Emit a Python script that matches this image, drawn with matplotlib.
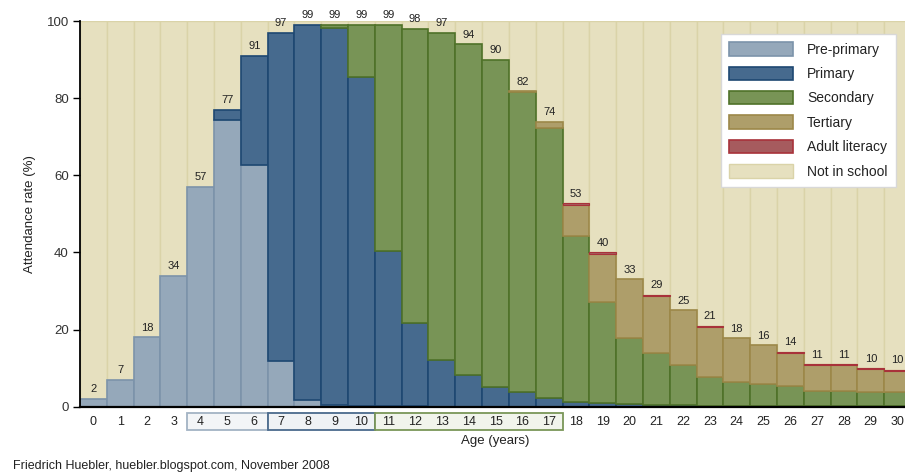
import matplotlib
matplotlib.use("Agg")
import matplotlib.pyplot as plt
from matplotlib.patches import Patch, Rectangle
import matplotlib.transforms as mtransforms

plt.rcParams['font.family'] = ['Liberation Sans', 'DejaVu Sans']

ages = list(range(31))
age_labels = [str(a) for a in ages]

preprimary = [2.0, 7.0, 18.0, 34.0, 57.0, 74.3, 62.7, 11.8, 1.7, 0.5, 0.3, 0.2, 0.1, 0, 0, 0,
              0, 0, 0, 0, 0, 0, 0, 0, 0, 0, 0, 0, 0, 0, 0]
primary = [0, 0, 0, 0, 0, 2.7, 28.3, 85.2, 97.3, 97.7, 85.3, 40.2, 21.5, 12.1, 8.1, 5.2,
           3.9, 2.2, 1.3, 1.0, 0.6, 0.4, 0.5, 0.3, 0.2, 0.2, 0.1, 0.1, 0.1, 0.1, 0.1]
secondary = [0, 0, 0, 0, 0, 0, 0, 0, 0, 0.8, 13.4, 58.6, 76.4, 84.9, 85.9, 84.8,
             77.6, 70.0, 43.0, 26.2, 17.1, 13.4, 10.3, 7.3, 6.1, 5.7, 5.3, 4.1, 4.1, 3.6, 3.6]
tertiary = [0, 0, 0, 0, 0, 0, 0, 0, 0, 0, 0, 0, 0, 0, 0, 0,
            0.3, 1.6, 8.1, 12.5, 15.3, 14.9, 14.2, 13.0, 11.4, 10.0, 8.6, 6.5, 6.5, 6.0, 5.6]
adult = [0, 0, 0, 0, 0, 0, 0, 0, 0, 0, 0, 0, 0, 0, 0, 0,
         0, 0, 0.3, 0.3, 0.0, 0.3, 0.0, 0.3, 0.0, 0.0, 0.3, 0.3, 0.3, 0.3, 0.3]
total_labels = [2, 7, 18, 34, 57, 77, 91, 97, 99, 99, 99, 99, 98, 97, 94, 90,
                82, 74, 53, 40, 33, 29, 25, 21, 18, 16, 14, 11, 11, 10, 10]

series = [
    ("Pre-primary", preprimary, "#95A8BA", "#7C93AA", 1.2),
    ("Primary", primary, "#466A8E", "#1E4872", 1.2),
    ("Secondary", secondary, "#789456", "#4F7229", 1.2),
    ("Tertiary", tertiary, "#AE9E6A", "#9C8849", 1.2),
    ("Adult literacy", adult, "#A65B5E", "#A8323A", 0.8),
]
notin_face, notin_edge = "#E6E0BF", "#DAD3A8"

fig = plt.figure(figsize=(9.05, 4.75), dpi=100)
ax = fig.add_axes([80 / 905, 68.3 / 475, 831 / 905, 385.7 / 475])
ax.set_facecolor(notin_face)

tops = [sum(s[1][i] for s in series) for i in range(len(ages))]
ax.bar(ages, [100 - t for t in tops], bottom=tops, width=1.0, color=notin_face,
       edgecolor=notin_edge, linewidth=1.0, zorder=1)

bottoms = [0.0] * len(ages)
for name, vals, fc, ec, lw in series:
    idx = [i for i, v in enumerate(vals) if v > 0]
    ax.bar([ages[i] for i in idx], [vals[i] for i in idx],
           bottom=[bottoms[i] for i in idx], width=1.0, color=fc, edgecolor=ec,
           linewidth=lw, zorder=2)
    bottoms = [b + v for b, v in zip(bottoms, vals)]

for a, t, lab in zip(ages, tops, total_labels):
    ax.text(a, t + 1.2, str(lab), ha='center', va='bottom', fontsize=8,
            color='#222222', clip_on=False, zorder=5)

ax.set_xlim(-0.5, 30.5)
ax.set_ylim(0, 100)
ax.set_yticks([0, 20, 40, 60, 80, 100])
ax.set_xticks(ages)
ax.set_xticklabels(age_labels)
ax.tick_params(axis='x', length=0, pad=7, labelsize=9, colors='#222222')
ax.tick_params(axis='y', length=5, width=1, labelsize=9.5, pad=3)
ax.tick_params(axis='y', colors='black', labelcolor='#333333')
for sp in ['top', 'right']:
    ax.spines[sp].set_visible(False)
ax.spines['left'].set_linewidth(1.3)
ax.spines['bottom'].set_linewidth(1.6)
ax.set_ylabel("Attendance rate (%)", fontsize=9.5, color='#222222', labelpad=8)
ax.set_xlabel("Age (years)", fontsize=9.5, color='#222222', labelpad=5)

trans = mtransforms.blended_transform_factory(ax.transData, ax.transAxes)
groups = [(3.5, 6.5, "#A3B3C4", "#F3F5F7"),
          (6.5, 10.5, "#4A6A8C", "#EFF2F5"),
          (10.5, 17.5, "#7A9658", "#F1F4EC")]
for x0, x1, ec, fc in groups:
    r = Rectangle((x0, -0.061), x1 - x0, 0.045, transform=trans, facecolor=fc,
                  edgecolor=ec, linewidth=1.3, clip_on=False, zorder=0)
    ax.add_patch(r)

handles = [Patch(facecolor=fc, edgecolor=ec, linewidth=1.2, label=name)
           for name, _, fc, ec, _lw in series]
handles.append(Patch(facecolor=notin_face, edgecolor=notin_edge, linewidth=1.0,
                     label="Not in school"))
leg = fig.legend(handles=handles, loc='upper left',
                 bbox_to_anchor=(714 / 905, 1 - 27 / 475), frameon=True,
                 fontsize=10, handlelength=4.6, handleheight=1.1,
                 labelspacing=0.72, borderpad=0.6, handletextpad=1.0,
                 fancybox=False, framealpha=1)
leg.get_frame().set_edgecolor('#D8D8D8')
leg.get_frame().set_linewidth(1.0)
for t in leg.get_texts():
    t.set_color('#222222')

fig.text(13 / 905, 1 - 466 / 475, "Friedrich Huebler, huebler.blogspot.com, November 2008",
         fontsize=9, color='#222222', ha='left', va='center')

fig.savefig("out.png", dpi=100)
